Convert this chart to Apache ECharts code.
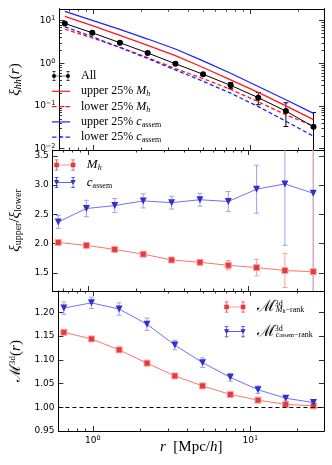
<!DOCTYPE html>
<html>
<head>
<meta charset="utf-8">
<script src="https://cdn.jsdelivr.net/npm/echarts@6/dist/echarts.min.js"></script>
<style>
  html, body { margin: 0; padding: 0; background: #fff; }
  #main { width: 332px; height: 465px; }
</style>
</head>
<body>
<div id="main"></div>
<script>
// data -------------------------------------------------------------
var radius = [0.655, 0.98, 1.47, 2.21, 3.32, 4.98, 7.47, 11.2, 16.8, 25.2];

var xiAll = [8.6, 5.2, 3.05, 1.75, 0.98, 0.555, 0.305, 0.157, 0.076, 0.0325];
var xiAllErr = [0.3, 0.18, 0.1, 0.06, 0.04, 0.03, 0.05, 0.05, 0.043, 0.038];
var xiUpperM = [12.7, 7.64, 4.54, 2.65, 1.51, 0.80, 0.41, 0.208, 0.101, 0.048];
var xiLowerM = [6.3, 3.93, 2.38, 1.36, 0.75, 0.44, 0.245, 0.126, 0.062, 0.034];
var xiUpperC = [16.6, 10.2, 6.28, 3.72, 2.17, 1.14, 0.585, 0.287, 0.14, 0.067];
var xiLowerC = [7.2, 4.2, 2.35, 1.3, 0.7, 0.38, 0.2, 0.097, 0.044, 0.0196];

var ratioM = [2.02, 1.97, 1.90, 1.82, 1.72, 1.68, 1.63, 1.59, 1.54, 1.52];
var ratioMErr = [0.03, 0.03, 0.03, 0.03, 0.03, 0.04, 0.08, 0.14, 0.29, 5];
var ratioC = [2.37, 2.60, 2.65, 2.73, 2.70, 2.75, 2.72, 2.93, 3.02, 2.86];
var ratioCErr = [0.11, 0.14, 0.12, 0.12, 0.11, 0.11, 0.17, 0.41, 1.05, 5];

var markM = [1.158, 1.144, 1.121, 1.093, 1.066, 1.045, 1.027, 1.015, 1.006, 1.003];
var markMErr = [0.003, 0.003, 0.003, 0.003, 0.003, 0.003, 0.003, 0.003, 0.003, 0.003];
var markC = [1.209, 1.220, 1.207, 1.175, 1.131, 1.094, 1.063, 1.037, 1.019, 1.010];
var markCErr = [0.013, 0.012, 0.013, 0.013, 0.01, 0.01, 0.008, 0.008, 0.006, 0.005];

// ticks
var xMajor = [1, 10];
var xMinor = [0.7, 0.8, 0.9, 2, 3, 4, 5, 6, 7, 8, 9, 20];
var yLogMajor = [0.01, 0.1, 1, 10];
var ratioTicks = [1.5, 2.0, 2.5, 3.0, 3.5];
var markTicks = [0.95, 1.00, 1.05, 1.10, 1.15, 1.20];

var yLogMinor = [];
yLogMajor.forEach(function (d) {
    for (var k = 2; k <= 9; k++) yLogMinor.push(+(k * d).toPrecision(3));
});

//layout-----------------------------------------
var xMin = 0.605, xMax = 29.4;
var yTopMin = 0.0093, yTopMax = 18.8;
var grids = [{top: 9, height: 141}, {top: 150, height: 141}, {top: 291, height: 140}];
var serif = 'Liberation Serif';
var sans = 'DejaVu Sans';
var black = '#000';

var RED = '#ff1a1a', BLUE = '#2222ff';

function powLabel(v) {
    var e = Math.round(Math.log10(v));
    return '10{sup|' + (e < 0 ? '\u2212' + (-e) : e) + '}';
}

var tickLabel = {
    fontFamily: sans, fontSize: 9, color: black, margin: 4, lineHeight: 12,
    rich: {sup: {fontFamily: sans, fontSize: 6.5, verticalAlign: 'top', lineHeight: 6}}
};

var mathRich = {
    i: {fontFamily: serif, fontStyle: 'italic', fontSize: 15, lineHeight: 16},
    n: {fontFamily: serif, fontSize: 15, lineHeight: 16},
    cal: {fontFamily: 'DejaVu Serif', fontSize: 15, lineHeight: 16},
    sub: {fontFamily: serif, fontSize: 10, verticalAlign: 'bottom', lineHeight: 8},
    subi: {fontFamily: serif, fontStyle: 'italic', fontSize: 10, verticalAlign: 'bottom', lineHeight: 8},
    sup: {fontFamily: serif, fontSize: 9, verticalAlign: 'top', lineHeight: 6}
};

function xAxis(g, pos, major, labels) {
    var ax = {
        type: 'log', logBase: 10, gridIndex: g, position: pos, min: xMin, max: xMax,
        axisLine: {show: true, onZero: false, lineStyle: {color: black, width: 1}},
        axisTick: {show: true, inside: true, length: major ? 5 : 2.5,
            customValues: major ? xMajor : xMinor, lineStyle: {color: black, width: 0.8}},
        axisLabel: {show: false},
        splitLine: {show: false}
    };
    if (labels) {
        ax.axisLabel = Object.assign({show: true, customValues: xMajor, formatter: powLabel}, tickLabel);
        ax.name = '{i|r}{n|  [Mpc/}{i|h}{n|]}';
        ax.nameLocation = 'middle';
        ax.nameGap = 8;
        ax.nameMoveOverlap = false;
        ax.nameTextStyle = {color: black, rich: mathRich};
    }
    return ax;
}

var xAxes = [];
grids.forEach(function (g, gi) {
    xAxes.push(xAxis(gi, 'bottom', true, gi === 2));
    xAxes.push(xAxis(gi, 'bottom', false, false));
    xAxes.push(xAxis(gi, 'top', true, false));
    xAxes.push(xAxis(gi, 'top', false, false));
});

function yBase(g, pos, type, min, max, ticks, len) {
    return {
        type: type, gridIndex: g, position: pos, min: min, max: max,
        axisLine: {show: true, onZero: false, lineStyle: {color: black, width: 1}},
        axisTick: {show: true, inside: true, length: len, customValues: ticks, lineStyle: {color: black, width: 0.8}},
        axisLabel: {show: false},
        splitLine: {show: false}
    };
}

var yAxes = [];
// top panel (log)
var yTop = yBase(0, 'left', 'log', yTopMin, yTopMax, yLogMajor, 5);
yTop.axisLabel = Object.assign({show: true, customValues: yLogMajor, formatter: powLabel}, tickLabel);
yTop.name = '{i|\u03be}{subi|hh}{n|(}{i|r}{n|)}';
yTop.nameLocation = 'middle';
yTop.nameGap = 20;
yTop.nameTextStyle = {color: black, rich: mathRich};
yAxes.push(yTop);
yAxes.push(yBase(0, 'left', 'log', yTopMin, yTopMax, yLogMinor, 2.5));
yAxes.push(yBase(0, 'right', 'log', yTopMin, yTopMax, yLogMajor, 5));
yAxes.push(yBase(0, 'right', 'log', yTopMin, yTopMax, yLogMinor, 2.5));
// ratio panel
var yMid = yBase(1, 'left', 'value', 1.19, 3.6, ratioTicks, 5);
yMid.axisLabel = Object.assign({show: true, customValues: ratioTicks,
    formatter: function (v) { return v.toFixed(1); }}, tickLabel);
yMid.name = '{i|\u03be}{sub|upper}{n|/}{i|\u03be}{sub|lower}';
yMid.nameLocation = 'middle';
yMid.nameGap = 22;
yMid.nameTextStyle = {color: black, rich: mathRich};
yAxes.push(yMid);
yAxes.push(yBase(1, 'right', 'value', 1.19, 3.6, ratioTicks, 5));
// mark panel
var yBot = yBase(2, 'left', 'value', 0.95, 1.245, markTicks, 5);
yBot.axisLabel = Object.assign({show: true, customValues: markTicks,
    formatter: function (v) { return v.toFixed(2); }}, tickLabel);
yBot.name = '{cal|\u2133}{sup|3d}{n|(}{i|r}{n|)}';
yBot.nameLocation = 'middle';
yBot.nameGap = 27;
yBot.nameTextStyle = {color: black, rich: mathRich};
yAxes.push(yBot);
yAxes.push(yBase(2, 'right', 'value', 0.95, 1.245, markTicks, 5));

//series-----------------------------------------
function pairs(vals) {
    return radius.map(function (r, i) { return [r, vals[i]]; });
}

function errBars(xi, yi, vals, errs, color, floor) {
    return {
        type: 'custom', xAxisIndex: xi, yAxisIndex: yi, clip: true, silent: true, z: 1,
        data: radius.map(function (r, i) { return [r, vals[i], errs[i]]; }),
        renderItem: function (params, api) {
            var x = api.value(0), y = api.value(1), e = api.value(2);
            var hi = api.coord([x, y + e]);
            var lo = api.coord([x, Math.max(y - e, floor)]);
            var c = 2.5;
            var st = {stroke: color, lineWidth: 1};
            return {
                type: 'group', children: [
                    {type: 'line', shape: {x1: hi[0], y1: hi[1], x2: lo[0], y2: lo[1]}, style: st},
                    {type: 'line', shape: {x1: hi[0] - c, y1: hi[1], x2: hi[0] + c, y2: hi[1]}, style: st},
                    {type: 'line', shape: {x1: lo[0] - c, y1: lo[1], x2: lo[0] + c, y2: lo[1]}, style: st}
                ]
            };
        }
    };
}

function curve(name, vals, color, dashed) {
    return {
        name: name, type: 'line', xAxisIndex: 0, yAxisIndex: 0, data: pairs(vals),
        symbol: 'none', color: color, itemStyle: {color: color}, z: 2,
        lineStyle: {color: color, width: 1.3, type: dashed ? [4, 2.5] : 'solid'}
    };
}

var redFill = '#e8383a', redEdge = '#f4a3a3', redLine = '#ff7373', redErr = '#f7a0a0';
var blueFill = '#3030cc', blueEdge = '#8888ee', blueLine = '#6f6fff', blueErr = '#a0a0f7';

function pointsM(name, xi, yi, vals) {
    return {
        name: name, type: 'line', xAxisIndex: xi, yAxisIndex: yi, data: pairs(vals), z: 3,
        symbol: 'rect', symbolSize: 6, color: redFill,
        itemStyle: {color: redFill, borderColor: redEdge, borderWidth: 1},
        lineStyle: {color: redLine, width: 1}
    };
}

function pointsC(name, xi, yi, vals) {
    return {
        name: name, type: 'line', xAxisIndex: xi, yAxisIndex: yi, data: pairs(vals), z: 3,
        symbol: 'triangle', symbolRotate: 180, symbolSize: 7, color: blueFill,
        itemStyle: {color: blueFill},
        lineStyle: {color: blueLine, width: 1}
    };
}

var series = [
    curve('upperC', xiUpperC, BLUE, false),
    curve('upperM', xiUpperM, RED, false),
    curve('lowerM', xiLowerM, RED, true),
    curve('lowerC', xiLowerC, BLUE, true),
    errBars(0, 0, xiAll, xiAllErr, black, 0.004),
    {
        name: 'All', type: 'line', xAxisIndex: 0, yAxisIndex: 0, data: pairs(xiAll), z: 4,
        symbol: 'circle', symbolSize: 6, color: black, itemStyle: {color: black},
        lineStyle: {color: black, width: 1}
    },
    errBars(4, 4, ratioC, ratioCErr, blueErr, -10),
    errBars(4, 4, ratioM, ratioMErr, redErr, -10),
    pointsM('ratioM', 4, 4, ratioM),
    pointsC('ratioC', 4, 4, ratioC),
    errBars(8, 6, markC, markCErr, blueErr, -10),
    errBars(8, 6, markM, markMErr, redErr, -10),
    pointsM('markM', 8, 6, markM),
    pointsC('markC', 8, 6, markC)
];
series[series.length - 2].markLine = {
    silent: true, symbol: 'none', label: {show: false},
    lineStyle: {color: black, type: [4, 3], width: 1},
    data: [{yAxis: 1}]
};

//legends-----------------------------------------
var lineIcon = 'path://M0,5.4h18v1.2h-18z';
var dashIcon = 'path://M0,5.4h4.5v1.2h-4.5zM6.75,5.4h4.5v1.2h-4.5zM13.5,5.4h4.5v1.2h-4.5z';
var bars = 'M2.6,0h0.8v12h-0.8zM20.6,0h0.8v12h-0.8zM1,0h4v0.8h-4zM1,11.2h4v0.8h-4zM19,0h4v0.8h-4zM19,11.2h4v0.8h-4zM3,5.6h18v0.8h-18z';
var circIcon = 'path://' + bars + 'M0.4,6a2.6,2.6 0 1,1 5.2,0a2.6,2.6 0 1,1 -5.2,0zM18.4,6a2.6,2.6 0 1,1 5.2,0a2.6,2.6 0 1,1 -5.2,0z';
var rectIcon = 'path://' + bars + 'M0.5,3.5h5v5h-5zM18.5,3.5h5v5h-5z';
var triIcon = 'path://' + bars + 'M0.2,3.2h5.6l-2.8,5.6zM18.2,3.2h5.6l-2.8,5.6z';

var legendText = {
    All: 'All',
    upperM: 'upper 25% {i|M}{si|h}',
    lowerM: 'lower 25% {i|M}{si|h}',
    upperC: 'upper 25% {i|c}{s|assem}',
    lowerC: 'lower 25% {i|c}{s|assem}',
    ratioM: '{i|M}{si|h}',
    ratioC: '{i|c}{s|assem}',
    markM: '{cal|\u2133}{up|3d}{si|M}{ss|h}{s|\u2212rank}',
    markC: '{cal|\u2133}{up|3d}{si|c}{ss|assem}{s|\u2212rank}'
};

function legendRich(size) {
    return {
        g: {width: 6},
        i: {fontFamily: serif, fontStyle: 'italic', fontSize: size, lineHeight: 14},
        cal: {fontFamily: 'DejaVu Serif', fontSize: size + 3, lineHeight: 14},
        s: {fontFamily: serif, fontSize: 8, verticalAlign: 'bottom', lineHeight: 6},
        si: {fontFamily: serif, fontStyle: 'italic', fontSize: 8, verticalAlign: 'bottom', lineHeight: 6},
        ss: {fontFamily: serif, fontSize: 6, verticalAlign: 'bottom', lineHeight: 3},
        up: {fontFamily: serif, fontSize: 8, verticalAlign: 'top', lineHeight: 6, width: 1}
    };
}

function legend(names, icons, left, top, w, h, gap, size) {
    return {
        orient: 'vertical', left: left, top: top, itemWidth: w, itemHeight: h, itemGap: gap,
        symbolKeepAspect: true, selectedMode: false, padding: 0,
        data: names.map(function (n, i) { return {name: n, icon: icons[i], itemStyle: {borderWidth: 0}}; }),
        formatter: function (n) { return '{g| }' + legendText[n]; },
        textStyle: {fontFamily: serif, fontSize: size, color: black, lineHeight: 14, rich: legendRich(size)}
    };
}

var option = {
    animation: false,
    grid: grids.map(function (g) { return {left: 43, width: 281, top: g.top, height: g.height}; }),
    xAxis: xAxes,
    yAxis: yAxes,
    legend: [
        legend(['All', 'upperM', 'lowerM', 'upperC', 'lowerC'],
            [circIcon, lineIcon, dashIcon, lineIcon, dashIcon], 52, 69, 18, 10, 1.3, 12),
        legend(['ratioM', 'ratioC'], [rectIcon, triIcon], 54, 158, 22, 11, 3.6, 13),
        legend(['markM', 'markC'], [rectIcon, triIcon], 224, 299, 22, 11, 8.7, 13)
    ],
    series: series
};

var chart = echarts.init(document.getElementById('main'));
chart.setOption(option);
</script>
</body>
</html>
